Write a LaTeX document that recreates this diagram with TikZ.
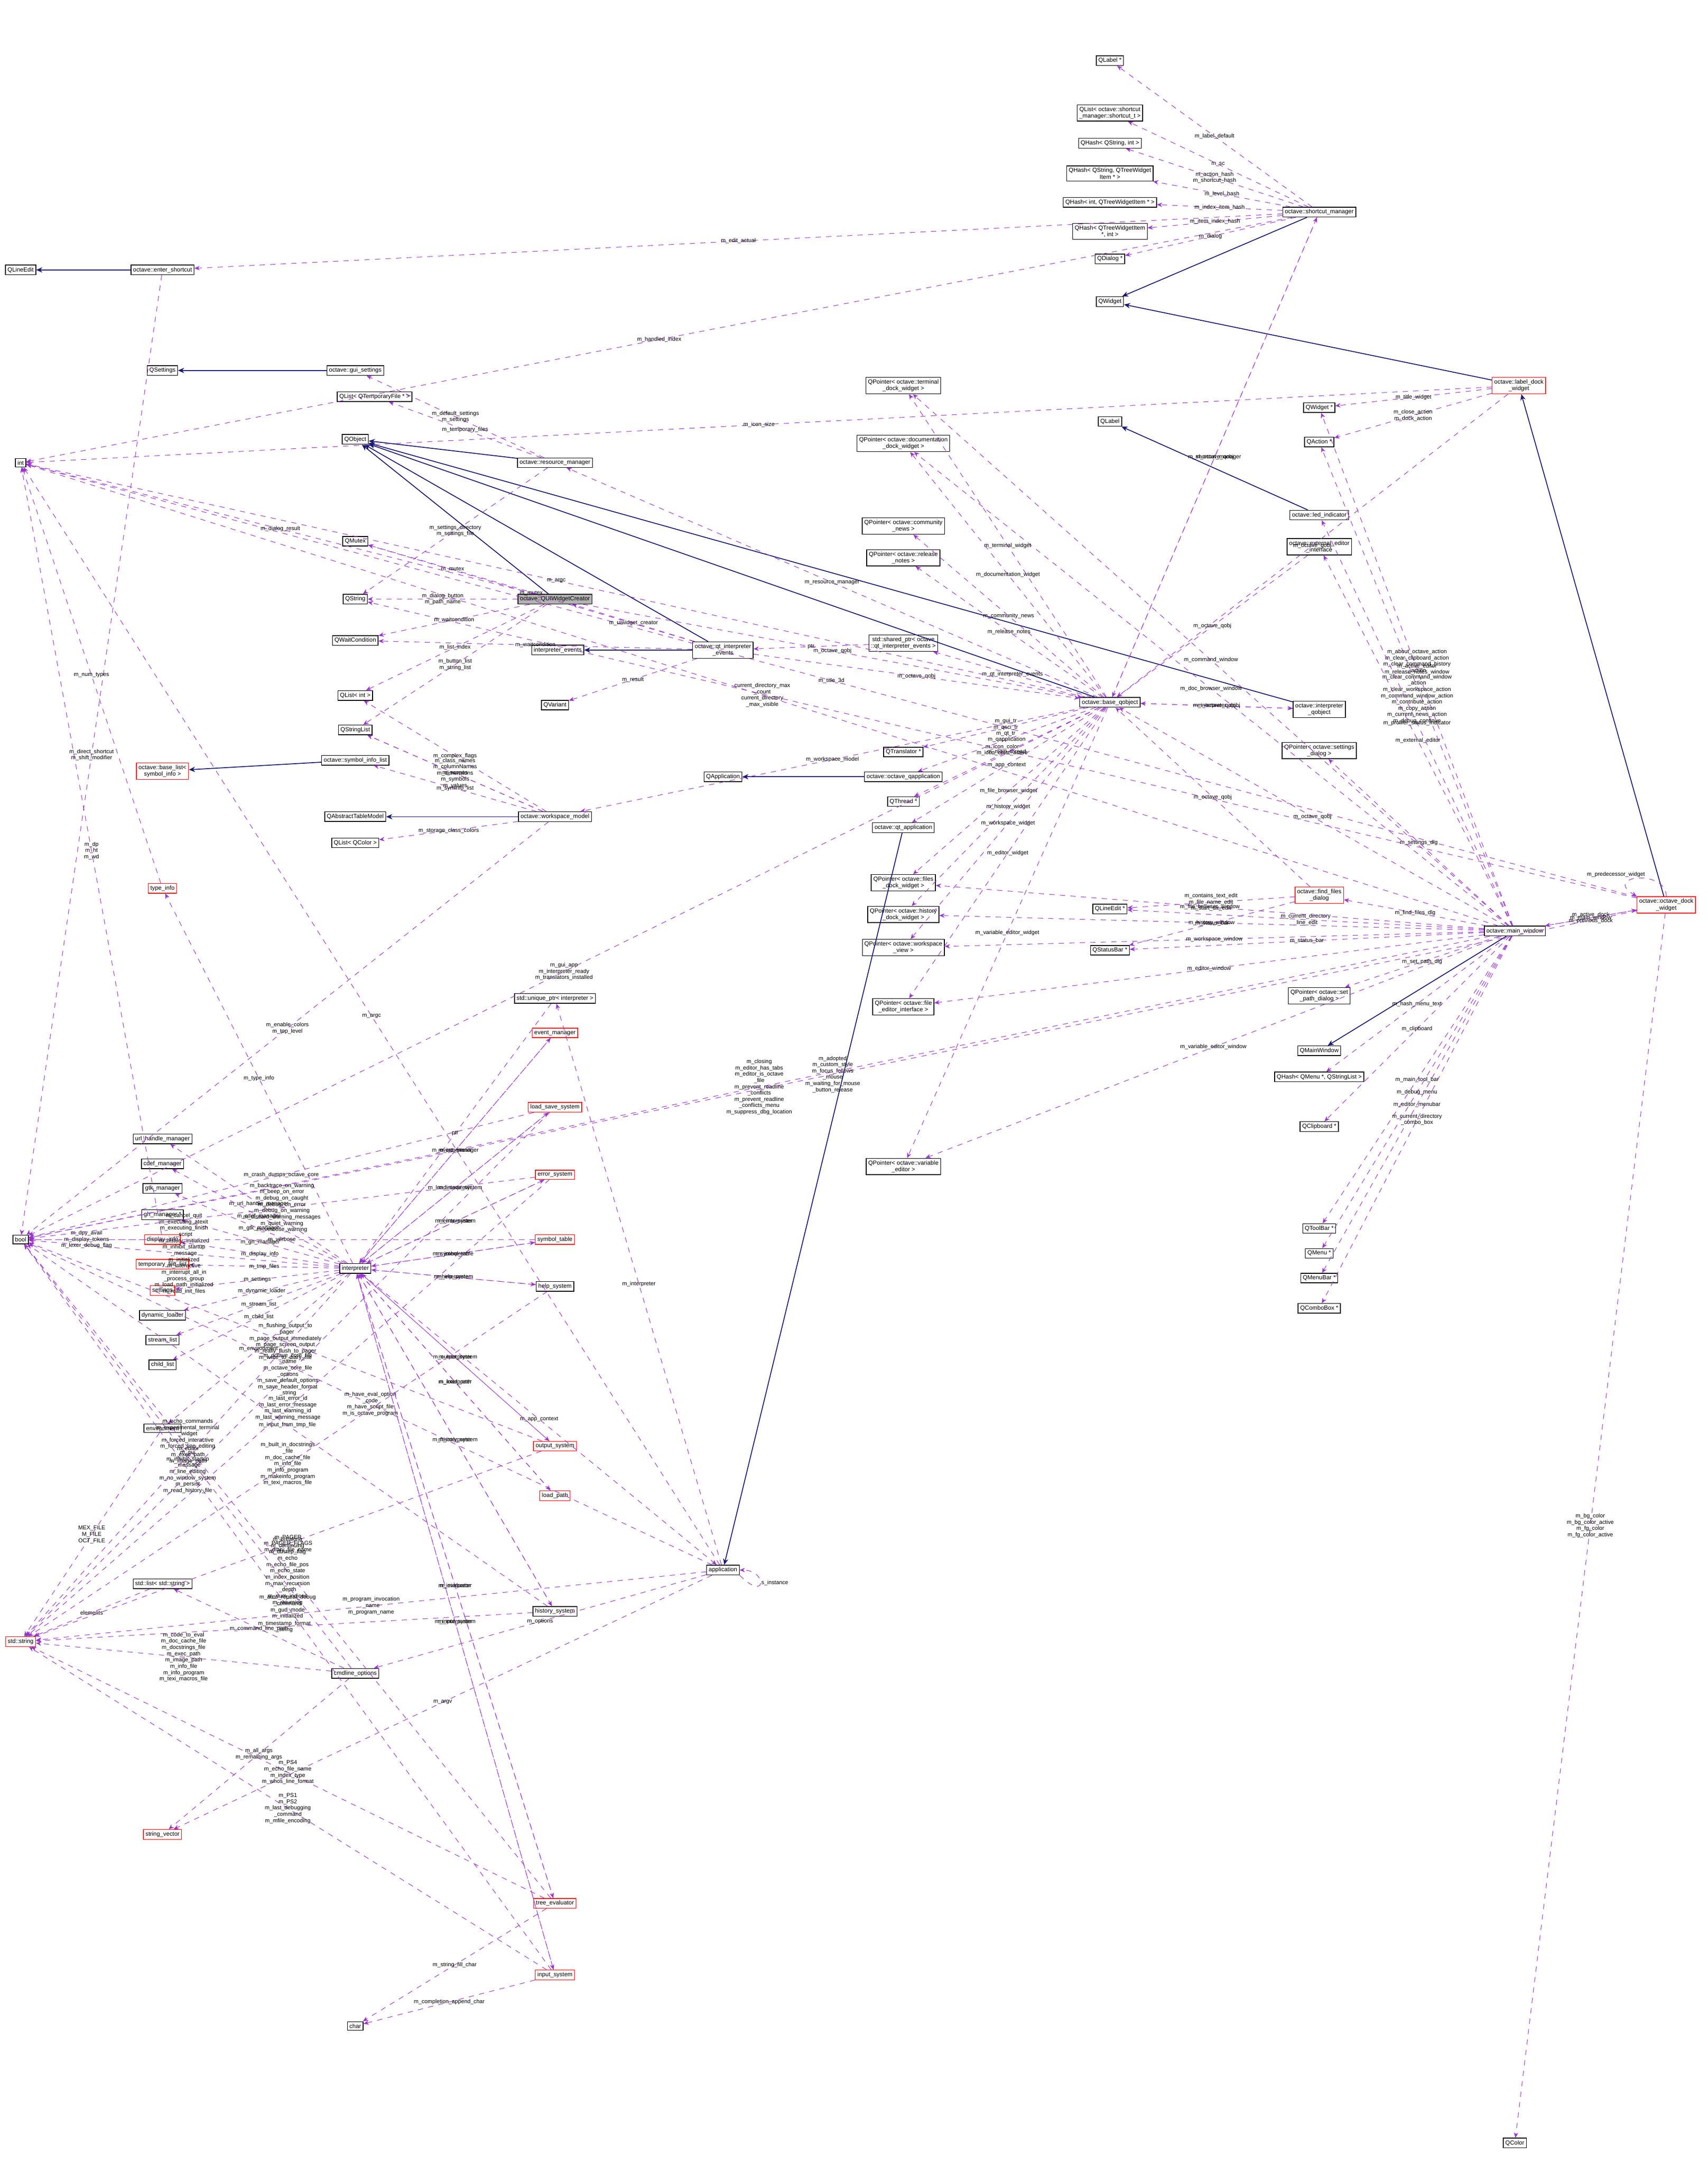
\documentclass[tikz,border=0pt]{standalone}
\usepackage{fontspec}
\setmainfont{Liberation Sans}
\usetikzlibrary{arrows.meta}
\definecolor{usecol}{HTML}{9A32CD}
\definecolor{inhcol}{HTML}{191970}
\tikzset{cls/.style = {draw, fill=white, inner sep=1.2pt, align=center, font=\fontsize{3.4}{3.8}\selectfont},
  redcls/.style = {cls, draw=red},
  selcls/.style = {cls, fill=black!30},
  use/.style = {dashed, usecol, line width=0.3pt, -{Stealth[length=3pt,width=2.5pt]}},
  inh/.style = {inhcol, line width=0.5pt, -{Stealth[length=3.5pt,width=3pt]}},
  lbl/.style = {inner sep=0.5pt, align=center, text=black, font=\fontsize{3.2}{3.6}\selectfont}}
\begin{document}
\catcode`\_=12
\begin{tikzpicture}[x=0.02765cm, y=-0.02765cm]
\useasboundingbox (0,0) rectangle (1240,1572);

% left column
\node[cls] (QLineEdit) at (15,196) {QLineEdit};
\node[cls] (int) at (15,336) {int};
\node[cls] (bool) at (15,900) {bool};
\node[redcls] (string) at (15,1192) {std::string};
\node[cls] (enter_shortcut) at (118,196) {octave::enter_shortcut};
\node[cls] (QSettings) at (118,269) {QSettings};
\node[redcls] (base_list) at (118,560) {octave::base_list<\\symbol_info >};
\node[redcls] (type_info) at (118,645) {type_info};
\node[cls] (url_handle_manager) at (118,827) {url_handle_manager};
\node[cls] (cdef_manager) at (118,845) {cdef_manager};
\node[cls] (gtk_manager) at (118,863) {gtk_manager};
\node[cls] (gh_manager) at (118,882) {gh_manager *};
\node[redcls] (display_info) at (118,900) {display_info};
\node[redcls] (temporary_file_list) at (118,918) {temporary_file_list};
\node[redcls] (settings) at (118,937) {settings};
\node[cls] (dynamic_loader) at (118,955) {dynamic_loader};
\node[cls] (stream_list) at (118,973) {stream_list};
\node[cls] (child_list) at (118,991) {child_list};
\node[cls] (environment) at (118,1037) {environment};
\node[cls] (string_list) at (118,1150) {std::list< std::string >};
\node[redcls] (string_vector) at (118,1332) {string_vector};

% second column
\node[cls] (gui_settings) at (258,269) {octave::gui_settings};
\node[cls] (QList_tmp) at (272,288) {QList< QTemporaryFile * >};
\node[cls] (QObject) at (258,319) {QObject};
\node[cls] (QMutex) at (258,393) {QMutex};
\node[cls] (QString) at (258,435) {QString};
\node[cls] (QWaitCondition) at (258,465) {QWaitCondition};
\node[cls] (QList_int) at (258,505) {QList< int >};
\node[cls] (QStringList) at (258,530) {QStringList};
\node[cls] (symbol_info_list) at (258,552) {octave::symbol_info_list};
\node[cls] (QAbstractTableModel) at (258,593) {QAbstractTableModel};
\node[cls] (QList_color) at (258,612) {QList< QColor >};
\node[cls] (interpreter) at (258,921) {interpreter};
\node[cls] (cmdline_options) at (258,1215) {cmdline_options};
\node[cls] (char) at (258,1471) {char};

% third column
\node[cls] (resource_manager) at (403,336) {octave::resource_manager};
\node[selcls] (QUIWidgetCreator) at (403,435) {octave::QUIWidgetCreator};
\node[cls] (interpreter_events) at (405,472) {interpreter_events};
\node[cls] (QVariant) at (403,512) {QVariant};
\node[cls] (workspace_model) at (403,593) {octave::workspace_model};
\node[cls] (unique_ptr) at (403,725) {std::unique_ptr< interpreter >};
\node[redcls] (event_manager) at (403,750) {event_manager};
\node[redcls] (load_save_system) at (403,804) {load_save_system};
\node[redcls] (error_system) at (403,853) {error_system};
\node[redcls] (symbol_table) at (403,900) {symbol_table};
\node[cls] (help_system) at (403,934) {help_system};
\node[redcls] (output_system) at (403,1050) {output_system};
\node[redcls] (load_path) at (403,1086) {load_path};
\node[cls] (history_system) at (403,1170) {history_system};
\node[redcls] (tree_evaluator) at (403,1382) {tree_evaluator};
\node[redcls] (input_system) at (403,1434) {input_system};

% fourth column
\node[cls] (qt_interpreter_events) at (525,472) {octave::qt_interpreter\\_events};
\node[cls] (QApplication) at (525,564) {QApplication};
\node[cls] (application) at (525,1140) {application};

% fifth column
\node[cls] (terminal_dock) at (656,280) {QPointer< octave::terminal\\_dock_widget >};
\node[cls] (doc_dock) at (656,322) {QPointer< octave::documentation\\_dock_widget >};
\node[cls] (community_news) at (656,382) {QPointer< octave::community\\_news >};
\node[cls] (release_notes) at (656,405) {QPointer< octave::release\\_notes >};
\node[cls] (shared_ptr) at (656,467) {std::shared_ptr< octave\\::qt_interpreter_events >};
\node[cls] (QTranslator) at (656,546) {QTranslator *};
\node[cls] (octave_qapplication) at (656,564) {octave::octave_qapplication};
\node[cls] (QThread) at (656,582) {QThread *};
\node[cls] (qt_application) at (656,601) {octave::qt_application};
\node[cls] (files_dock) at (656,641) {QPointer< octave::files\\_dock_widget >};
\node[cls] (history_dock) at (656,664) {QPointer< octave::history\\_dock_widget >};
\node[cls] (workspace_view) at (656,688) {QPointer< octave::workspace\\_view >};
\node[cls] (file_editor) at (656,731) {QPointer< octave::file\\_editor_interface >};
\node[cls] (variable_editor) at (656,847) {QPointer< octave::variable\\_editor >};

% sixth column
\node[cls] (QLabel_ptr) at (806,44) {QLabel *};
\node[cls] (QList_sc) at (806,82) {QList< octave::shortcut\\_manager::shortcut_t >};
\node[cls] (QHash_si) at (806,104) {QHash< QString, int >};
\node[cls] (QHash_st) at (806,126) {QHash< QString, QTreeWidget\\Item * >};
\node[cls] (QHash_it) at (806,147) {QHash< int, QTreeWidgetItem * >};
\node[cls] (QHash_ti) at (806,168) {QHash< QTreeWidgetItem\\*, int >};
\node[cls] (QDialog) at (806,188) {QDialog *};
\node[cls] (QWidget) at (806,219) {QWidget};
\node[cls] (QLabel) at (806,306) {QLabel};
\node[cls] (base_qobject) at (806,510) {octave::base_qobject};
\node[cls] (QLineEdit_ptr) at (806,660) {QLineEdit *};
\node[cls] (QStatusBar) at (806,690) {QStatusBar *};

% seventh column
\node[cls] (shortcut_manager) at (958,154) {octave::shortcut_manager};
\node[cls] (QWidget_ptr) at (958,296) {QWidget *};
\node[cls] (QAction) at (958,321) {QAction *};
\node[cls] (led_indicator) at (958,374) {octave::led_indicator};
\node[cls] (external_editor) at (958,397) {octave::external_editor\\_interface};
\node[cls] (interpreter_qobject) at (958,515) {octave::interpreter\\_qobject};
\node[cls] (settings_dialog) at (958,545) {QPointer< octave::settings\\_dialog >};
\node[redcls] (find_files) at (958,650) {octave::find_files\\_dialog};
\node[cls] (set_path) at (958,723) {QPointer< octave::set\\_path_dialog >};
\node[cls] (QMainWindow) at (958,763) {QMainWindow};
\node[cls] (QHash_menu) at (958,782) {QHash< QMenu *, QStringList >};
\node[cls] (QClipboard) at (958,818) {QClipboard *};
\node[cls] (QToolBar) at (958,892) {QToolBar *};
\node[cls] (QMenu) at (958,910) {QMenu *};
\node[cls] (QMenuBar) at (958,928) {QMenuBar *};
\node[cls] (QComboBox) at (958,950) {QComboBox *};

% right column
\node[redcls] (label_dock) at (1103,280) {octave::label_dock\\_widget};
\node[cls] (main_window) at (1100,676) {octave::main_window};
\node[redcls] (octave_dock) at (1210,657) {octave::octave_dock\\_widget};
\node[cls] (QColor) at (1100,1556) {QColor};

% inheritance
\foreach \a/\b in {enter_shortcut/QLineEdit, gui_settings/QSettings, resource_manager/QObject,
    QUIWidgetCreator/QObject, qt_interpreter_events/QObject, base_qobject/QObject,
    interpreter_qobject/QObject, qt_interpreter_events/interpreter_events,
    symbol_info_list/base_list, workspace_model/QAbstractTableModel,
    octave_qapplication/QApplication, qt_application/application,
    shortcut_manager/QWidget, label_dock/QWidget, led_indicator/QLabel,
    main_window/QMainWindow, octave_dock/label_dock}
  \draw[inh] (\a) -- (\b);

% usage
\foreach \a/\b/\l in {
    shortcut_manager/QLabel_ptr/m_label_default, shortcut_manager/QList_sc/m_sc,
    shortcut_manager/QHash_si/{m_action_hash\\m_shortcut_hash}, shortcut_manager/QHash_st/m_level_hash,
    shortcut_manager/QHash_it/m_index_item_hash, shortcut_manager/QHash_ti/m_item_index_hash,
    shortcut_manager/QDialog/m_dialog, shortcut_manager/enter_shortcut/m_edit_actual,
    shortcut_manager/int/m_handled_index, shortcut_manager/base_qobject/m_octave_qobj,
    base_qobject/shortcut_manager/m_shortcut_manager,
    enter_shortcut/bool/{m_direct_shortcut\\m_shift_modifier},
    label_dock/QWidget_ptr/m_title_widget, label_dock/QAction/{m_close_action\\m_dock_action},
    label_dock/int/m_icon_size, label_dock/base_qobject/m_octave_qobj,
    octave_dock/int/m_title_3d, octave_dock/QString/{m_icon_color\\m_icon_color_active},
    octave_dock/QColor/{m_bg_color\\m_bg_color_active\\m_fg_color\\m_fg_color_active},
    octave_dock/bool/{m_adopted\\m_custom_style\\m_focus_follows\\_mouse\\m_waiting_for_mouse\\_button_release},
    octave_dock/main_window/m_main_window, main_window/octave_dock/{m_active_dock\\m_previous_dock},
    main_window/QWidget_ptr/{m_active_editor\\m_release_notes_window},
    main_window/QAction/{m_about_octave_action\\m_clear_clipboard_action\\m_clear_command_history\\_action\\m_clear_command_window\\_action\\m_clear_workspace_action\\m_command_window_action\\m_contribute_action\\m_copy_action\\m_current_news_action\\m_debug_continue},
    main_window/led_indicator/m_profiler_status_indicator, main_window/external_editor/m_external_editor,
    main_window/settings_dialog/m_settings_dlg, main_window/base_qobject/m_octave_qobj,
    main_window/find_files/m_find_files_dlg,
    main_window/QLineEdit_ptr/{m_current_directory\\_line_edit}, main_window/QStatusBar/m_status_bar,
    main_window/set_path/m_set_path_dlg, main_window/QHash_menu/m_hash_menu_text,
    main_window/QClipboard/m_clipboard, main_window/QToolBar/m_main_tool_bar,
    main_window/QMenu/m_debug_menu, main_window/QMenuBar/m_editor_menubar,
    main_window/QComboBox/{m_current_directory\\_combo_box},
    main_window/terminal_dock/m_command_window, main_window/doc_dock/m_doc_browser_window,
    main_window/files_dock/m_file_browser_window, main_window/history_dock/m_history_window,
    main_window/workspace_view/m_workspace_window, main_window/file_editor/m_editor_window,
    main_window/variable_editor/m_variable_editor_window,
    main_window/int/{current_directory_max\\_count\\current_directory\\_max_visible},
    main_window/bool/{m_closing\\m_editor_has_tabs\\m_editor_is_octave\\_file\\m_prevent_readline\\_conflicts\\m_prevent_readline\\_conflicts_menu\\m_suppress_dbg_location},
    find_files/QLineEdit_ptr/{m_contains_text_edit\\m_file_name_edit\\m_start_dir_edit},
    find_files/QStatusBar/m_status_bar, find_files/base_qobject/m_octave_qobj,
    interpreter_qobject/base_qobject/m_octave_qobj, base_qobject/interpreter_qobject/m_interpreter_qobj,
    external_editor/base_qobject/m_octave_qobj,
    base_qobject/terminal_dock/m_terminal_widget, base_qobject/doc_dock/m_documentation_widget,
    base_qobject/resource_manager/m_resource_manager, base_qobject/community_news/m_community_news,
    base_qobject/release_notes/m_release_notes, QUIWidgetCreator/base_qobject/m_octave_qobj,
    base_qobject/shared_ptr/m_qt_interpreter_events, shared_ptr/qt_interpreter_events/ptr,
    qt_interpreter_events/base_qobject/m_octave_qobj,
    qt_interpreter_events/QUIWidgetCreator/m_uiwidget_creator,
    qt_interpreter_events/QMutex/m_mutex, qt_interpreter_events/QWaitCondition/m_waitcondition,
    qt_interpreter_events/QVariant/m_result,
    base_qobject/QTranslator/{m_gui_tr\\m_qsci_tr\\m_qt_tr},
    base_qobject/octave_qapplication/m_qapplication, base_qobject/QThread/m_main_thread,
    base_qobject/qt_application/m_app_context, base_qobject/files_dock/m_file_browser_widget,
    base_qobject/history_dock/m_history_widget, base_qobject/workspace_view/m_workspace_widget,
    base_qobject/file_editor/m_editor_widget, base_qobject/variable_editor/m_variable_editor_widget,
    base_qobject/workspace_model/m_workspace_model,
    base_qobject/bool/{m_gui_app\\m_interpreter_ready\\m_translators_installed},
    base_qobject/int/m_argc,
    QUIWidgetCreator/QMutex/m_mutex, QUIWidgetCreator/QString/{m_dialog_button\\m_path_name},
    QUIWidgetCreator/QList_int/m_list_index, QUIWidgetCreator/QStringList/{m_button_list\\m_string_list},
    QUIWidgetCreator/QWaitCondition/m_waitcondition, QUIWidgetCreator/int/m_dialog_result,
    resource_manager/gui_settings/{m_default_settings\\m_settings},
    resource_manager/QList_tmp/m_temporary_files,
    resource_manager/QString/{m_settings_directory\\m_settings_file},
    workspace_model/QStringList/m_scopes, workspace_model/QList_int/m_complex_flags,
    workspace_model/QStringList/{m_class_names\\m_columnNames\\m_dimensions\\m_symbols\\m_values},
    workspace_model/symbol_info_list/m_syminfo_list, workspace_model/QList_color/m_storage_class_colors,
    workspace_model/bool/{m_enable_colors\\m_top_level},
    application/unique_ptr/m_interpreter, unique_ptr/interpreter/ptr,
    application/bool/{m_have_eval_option\\_code\\m_have_script_file\\m_is_octave_program},
    application/string_vector/m_argv, application/cmdline_options/m_options,
    application/int/m_argc,
    interpreter/application/m_app_context,
    interpreter/url_handle_manager/m_url_handle_manager, interpreter/cdef_manager/m_cdef_manager,
    interpreter/gtk_manager/m_gtk_manager, interpreter/gh_manager/m_gh_manager,
    interpreter/display_info/m_display_info, interpreter/temporary_file_list/m_tmp_files,
    interpreter/settings/m_settings, interpreter/dynamic_loader/m_dynamic_loader,
    interpreter/stream_list/m_stream_list, interpreter/child_list/m_child_list,
    interpreter/environment/m_environment, interpreter/type_info/m_type_info,
    interpreter/event_manager/m_event_manager, interpreter/load_save_system/m_load_save_system,
    interpreter/error_system/m_error_system, interpreter/symbol_table/m_symbol_table,
    interpreter/help_system/m_help_system, interpreter/output_system/m_output_system,
    interpreter/load_path/m_load_path, interpreter/history_system/m_history_system,
    interpreter/tree_evaluator/m_evaluator, interpreter/input_system/m_input_system,
    event_manager/interpreter/m_interpreter, load_save_system/interpreter/m_interpreter,
    error_system/interpreter/m_interpreter, symbol_table/interpreter/m_interpreter,
    help_system/interpreter/m_interpreter, output_system/interpreter/m_interpreter,
    load_path/interpreter/m_interpreter, history_system/interpreter/m_interpreter,
    tree_evaluator/interpreter/m_interpreter, input_system/interpreter/m_interpreter,
    interpreter/bool/{m_cancel_quit\\m_executing_atexit\\m_executing_finish\\_script\\m_history_initialized\\m_inhibit_startup\\_message\\m_initialized\\m_interactive\\m_interrupt_all_in\\_process_group\\m_load_path_initialized\\m_read_init_files},
    display_info/bool/{m_dpy_avail\\m_display_tokens\\m_lexer_debug_flag},
    display_info/int/{m_dp\\m_ht\\m_wd}, type_info/int/m_num_types,
    error_system/bool/{m_backtrace_on_warning\\m_beep_on_error\\m_debug_on_caught\\m_debug_on_error\\m_debug_on_warning\\m_discard_warning_messages\\m_quiet_warning\\m_verbose_warning},
    error_system/string/{m_last_error_id\\m_last_error_message\\m_last_warning_id\\m_last_warning_message},
    load_save_system/string/{m_octave_core_file\\_name\\m_octave_core_file\\_options\\m_save_default_options\\m_save_header_format\\_string},
    load_save_system/bool/m_crash_dumps_octave_core,
    output_system/bool/{m_flushing_output_to\\_pager\\m_page_output_immediately\\m_page_screen_output\\m_really_flush_to_pager\\m_write_to_diary_file},
    output_system/string/{m_PAGER\\m_PAGER_FLAGS\\m_diary_file_name},
    help_system/string/{m_built_in_docstrings\\_file\\m_doc_cache_file\\m_info_file\\m_info_program\\m_makeinfo_program\\m_texi_macros_file},
    history_system/string/{m_timestamp_format\\_string}, history_system/bool/m_input_from_tmp_file,
    input_system/string/{m_PS1\\m_PS2\\m_last_debugging\\_command\\m_mfile_encoding},
    input_system/char/m_completion_append_char, input_system/bool/{m_auto_repeat_debug\\_command\\m_gud_mode\\m_initialized},
    tree_evaluator/bool/{m_breaking\\m_continuing\\m_dbstep_flag\\m_echo\\m_echo_file_pos\\m_echo_state\\m_index_position\\m_max_recursion\\_depth\\m_num_indices\\m_returning},
    tree_evaluator/string/{m_PS4\\m_echo_file_name\\m_index_type\\m_whos_line_format},
    tree_evaluator/char/m_string_fill_char,
    environment/string/{MEX_FILE\\M_FILE\\OCT_FILE},
    cmdline_options/bool/{m_echo_commands\\m_experimental_terminal\\_widget\\m_forced_interactive\\m_forced_line_editing\\m_gui\\m_inhibit_startup\\_message\\m_line_editing\\m_no_window_system\\m_persist\\m_read_history_file},
    cmdline_options/string/{m_code_to_eval\\m_doc_cache_file\\m_docstrings_file\\m_exec_path\\m_image_path\\m_info_file\\m_info_program\\m_texi_macros_file},
    cmdline_options/string_vector/{m_all_args\\m_remaining_args},
    cmdline_options/string_list/{m_command_line_path},
    string_list/string/elements, application/string/{m_program_invocation\\_name\\m_program_name},
    symbol_table/bool/m_verbose, interpreter/string/{m_editor\\m_exec_path\\m_image_path}}
  \draw[use] (\a) -- node[lbl]{\l} (\b);

\draw[use] (application.south east) .. controls +(20,20) and +(20,0) .. node[lbl, right]{s_instance} (application.east);
\draw[use] (octave_dock.north) .. controls +(0,-20) and +(-25,-15) .. node[lbl, above left, pos=0.4]{m_predecessor_widget} (octave_dock.north west);
\end{tikzpicture}
\end{document}
